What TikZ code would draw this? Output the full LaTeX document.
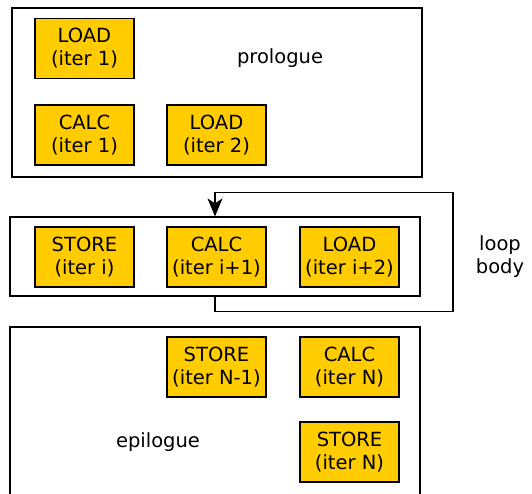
\documentclass[tikz,border=0pt]{standalone}
\usepackage{fontspec}
\setmainfont{DejaVu Sans}
\usetikzlibrary{arrows.meta}
\tikzset{
  stage/.style={draw=black, line width=1.1pt, fill=stageyellow, minimum width=99pt,
    minimum height=60pt, inner sep=0pt, align=center,
    font=\fontsize{19.5}{23}\selectfont},
  phase/.style={draw=black, line width=1.2pt, inner sep=0pt},
  label/.style={align=center, font=\fontsize{19.5}{23}\selectfont}
}
\definecolor{stageyellow}{HTML}{FFCC00}
\begin{document}
\begin{tikzpicture}[x=1pt,y=1pt]
      \useasboundingbox (0,0) rectangle (532,494);
      % prologue
      \node[phase, minimum width=410pt, minimum height=169pt] (pro) at (217,401.5) {};
      \node[label] (protext) at (280,436) {prologue};
      \node[stage] (load1) at (84.5,445.5) {LOAD\\(iter 1)};
      \node[stage] (calc1) at (84.5,359) {CALC\\(iter 1)};
      \node[stage] (load2) at (216.5,359) {LOAD\\(iter 2)};
      % loop body
      \node[phase, minimum width=410pt, minimum height=79pt] (loop) at (215,237.5) {};
      \node[stage] (storei) at (84.5,237) {STORE\\(iter i)};
      \node[stage] (calci) at (216.5,237) {CALC\\(iter i+1)};
      \node[stage] (loadi) at (349.5,237) {LOAD\\(iter i+2)};
      \node[label] (looptext) at (500,237) {loop\\body};
      \draw[line width=1.2pt, -{Stealth[length=18pt,width=15pt,inset=5pt]}]
        (loop.south) -- ++(0,-15) -- ++(238,0) |- ([yshift=24pt]loop.north) -- (loop.north);
      % epilogue
      \draw[phase] (10,-2) -- (10,167) -- (420,167) -- (420,-2);
      \node[label] (epitext) at (158,52) {epilogue};
      \node[stage] (storen1) at (216.5,127) {STORE\\(iter N-1)};
      \node[stage] (calcn) at (349.5,127) {CALC\\(iter N)};
      \node[stage] (storen) at (349.5,42) {STORE\\(iter N)};
    \end{tikzpicture}
\end{document}
